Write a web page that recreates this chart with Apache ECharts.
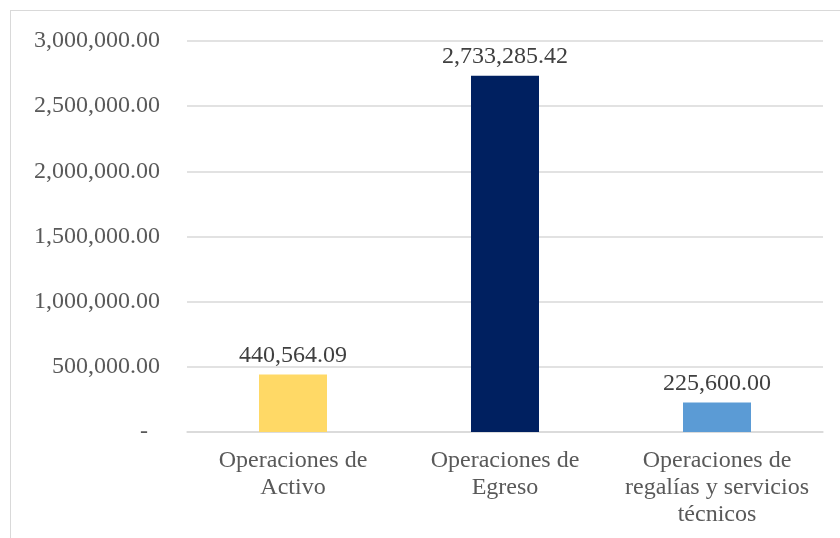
<!DOCTYPE html>
<html><head><meta charset="utf-8">
<script src="https://cdn.jsdelivr.net/npm/echarts@6/dist/echarts.min.js"></script>
<style>
html,body{margin:0;padding:0;background:#fff;overflow:hidden}
#frame{position:absolute;left:10px;top:10px;width:900px;height:600px;border:1px solid #d9d9d9;box-sizing:border-box}
#c{position:absolute;left:0;top:0;width:840px;height:538px}
</style></head>
<body><div id="frame"></div><div id="c"></div>
<script>
const categories = ['Operaciones de\nActivo', 'Operaciones de\nEgreso', 'Operaciones de\nregalías y servicios\ntécnicos'];
const values = [440564.09, 2733285.42, 225600.00];
const colors = ['#FFD966', '#002060', '#5B9BD5'];
const yTicks = [0, 500000, 1000000, 1500000, 2000000, 2500000, 3000000];

function fmt(v){
  return v.toLocaleString('en-US',{minimumFractionDigits:2,maximumFractionDigits:2});
}
const chart = echarts.init(document.getElementById('c'));
chart.setOption({
  animation:false,
  grid:{left:187, right:17, top:41, bottom:106},
  xAxis:{type:'category', data:categories,
    axisLine:{lineStyle:{color:'#d9d9d9',width:1.5}}, axisTick:{show:false},
    axisLabel:{fontFamily:'Liberation Serif', fontSize:24, color:'#595959', lineHeight:27, margin:15, interval:0}},
  yAxis:{type:'value', min:yTicks[0], max:yTicks[yTicks.length-1], interval:500000,
    axisLine:{show:false}, axisTick:{show:false},
    splitLine:{lineStyle:{color:'#d9d9d9',width:1.5}},
    axisLabel:{fontFamily:'Liberation Serif', fontSize:24, color:'#595959', margin:27,
      formatter:v=> v===0 ? '-\u00a0\u00a0' : fmt(v)}},
  series:[{type:'bar', barWidth:68,
    data:values.map((v,i)=>({value:v, itemStyle:{color:colors[i]}})),
    label:{show:true, position:'top', distance:7, fontFamily:'Liberation Serif', fontSize:24, color:'#404040',
      formatter:p=>fmt(p.value)}}]
});
</script></body></html>
